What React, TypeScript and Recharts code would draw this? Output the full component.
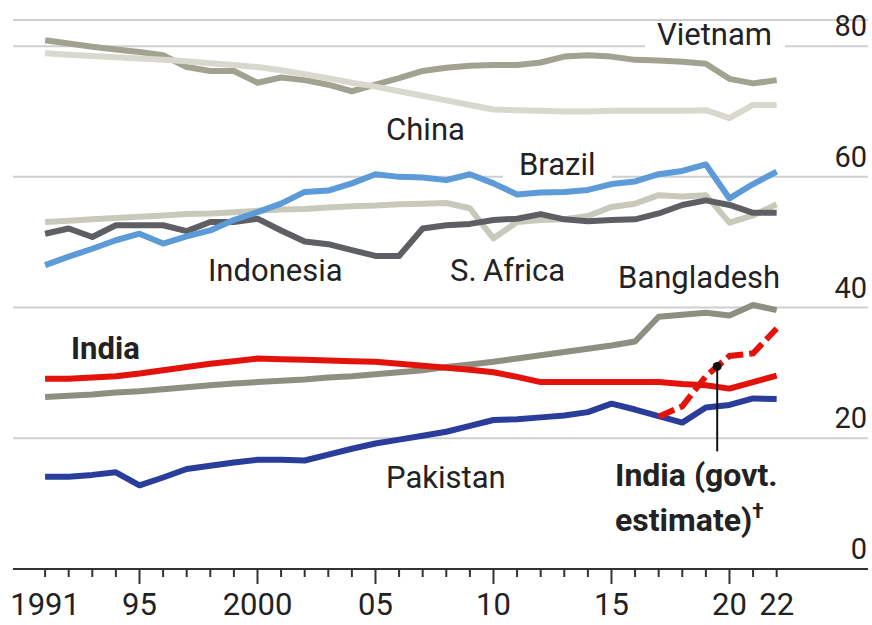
import React from "react";
import {
  LineChart,
  Line,
  XAxis,
  YAxis,
  CartesianGrid,
  ReferenceDot,
  ReferenceLine,
} from "recharts";

const years = [
  1991, 1992, 1993, 1994, 1995, 1996, 1997, 1998, 1999, 2000, 2001, 2002, 2003,
  2004, 2005, 2006, 2007, 2008, 2009, 2010, 2011, 2012, 2013, 2014, 2015, 2016,
  2017, 2018, 2019, 2020, 2021, 2022,
];

const vietnam = [
  80.9, 80.4, 79.9, 79.5, 79.1, 78.6, 76.8, 76.2, 76.2, 74.4, 75.2, 74.8, 74.1,
  73.1, 74.1, 75.1, 76.2, 76.7, 77.0, 77.1, 77.1, 77.5, 78.4, 78.6, 78.4, 77.9,
  77.8, 77.6, 77.3, 75.0, 74.3, 74.8,
];
const china = [
  78.9, 78.7, 78.5, 78.3, 78.1, 77.9, 77.7, 77.4, 77.1, 76.8, 76.3, 75.7, 75.1,
  74.4, 73.8, 73.1, 72.4, 71.7, 71.0, 70.3, 70.2, 70.1, 70.0, 70.0, 70.1, 70.1,
  70.1, 70.1, 70.2, 69.0, 71.0, 71.0,
];
const southAfrica = [
  53.1, 53.3, 53.5, 53.7, 53.9, 54.1, 54.3, 54.4, 54.6, 54.8, 55.0, 55.1, 55.3,
  55.5, 55.6, 55.8, 55.9, 56.0, 55.2, 50.6, 53.1, 53.4, 53.5, 54.0, 55.4, 55.9,
  57.2, 57.0, 57.2, 53.0, 54.1, 55.8,
];
const indonesia = [
  51.3, 52.1, 50.8, 52.6, 52.6, 52.6, 51.7, 53.1, 53.1, 53.6, 51.8, 50.1, 49.7,
  48.8, 47.9, 47.9, 52.1, 52.6, 52.8, 53.4, 53.6, 54.3, 53.5, 53.2, 53.4, 53.5,
  54.4, 55.7, 56.4, 55.7, 54.5, 54.5,
];
const brazil = [
  46.5, 47.8, 49.0, 50.3, 51.3, 49.8, 50.9, 51.8, 53.4, 54.6, 55.9, 57.7, 57.9,
  59.0, 60.4, 60.0, 59.9, 59.5, 60.4, 59.0, 57.3, 57.6, 57.7, 58.0, 58.9, 59.3,
  60.4, 60.9, 61.9, 56.7, 58.9, 60.8,
];
const bangladesh = [
  26.3, 26.5, 26.7, 27.0, 27.2, 27.5, 27.8, 28.1, 28.4, 28.6, 28.8, 29.0, 29.3,
  29.5, 29.8, 30.1, 30.4, 30.9, 31.3, 31.7, 32.2, 32.7, 33.2, 33.7, 34.2, 34.8,
  38.6, 38.9, 39.2, 38.8, 40.4, 39.6,
];
const pakistan = [
  14.1, 14.1, 14.4, 14.8, 12.8, 14.0, 15.3, 15.8, 16.3, 16.7, 16.7, 16.6, 17.5,
  18.4, 19.2, 19.8, 20.4, 21.0, 21.9, 22.8, 22.9, 23.2, 23.5, 24.0, 25.3, 24.4,
  23.4, 22.4, 24.7, 25.1, 26.1, 26.0,
];
const india = [
  29.1, 29.1, 29.3, 29.5, 29.9, 30.4, 30.9, 31.4, 31.8, 32.2, 32.1, 32.0, 31.9,
  31.8, 31.7, 31.4, 31.1, 30.8, 30.5, 30.1, 29.4, 28.6, 28.6, 28.6, 28.6, 28.6,
  28.6, 28.3, 28.1, 27.6, 28.6, 29.6,
];
const indiaGovt = [
  null, null, null, null, null, null, null, null, null, null, null, null, null,
  null, null, null, null, null, null, null, null, null, null, null, null, null,
  23.3, 24.9, 29.5, 32.6, 33.0, 36.8,
];

const yTicks = [0, 20, 40, 60, 80];
const tickLabels: Record<number, string> = {
  1991: "1991",
  1995: "95",
  2000: "2000",
  2005: "05",
  2010: "10",
  2015: "15",
  2020: "20",
  2022: "22",
};
const majorTicks = [1995, 2000, 2005, 2010, 2015, 2020];

const rows = years.map((year, i) => ({
  year,
  vietnam: vietnam[i],
  china: china[i],
  southAfrica: southAfrica[i],
  indonesia: indonesia[i],
  brazil: brazil[i],
  bangladesh: bangladesh[i],
  pakistan: pakistan[i],
  india: india[i],
  indiaGovt: indiaGovt[i],
}));

// drawn bottom to top
const series = [
  { key: "vietnam", color: "#a2a290" },
  { key: "china", color: "#d8d8ce" },
  { key: "southAfrica", color: "#c9c9bb" },
  { key: "indonesia", color: "#5d5f63" },
  { key: "brazil", color: "#5c9ad8" },
  { key: "bangladesh", color: "#8e8f80" },
  { key: "pakistan", color: "#2a3d9b" },
  { key: "india", color: "#e3120b" },
];

// label anchors in data units (year, value); gap = white patch over gridline
const labels = [
  { text: "Vietnam", year: 2016.93, value: 80.2, gap: [-12, 140] },
  { text: "China", year: 2005.45, value: 65.7 },
  { text: "Brazil", year: 2011.08, value: 60.3, gap: [-16, 109] },
  { text: "Indonesia", year: 1997.9, value: 44.1 },
  { text: "S.\u2009Africa", year: 2008.16, value: 44.1 },
  { text: "Bangladesh", year: 2015.28, value: 43.0 },
  { text: "India", year: 1992.1, value: 32.2, bold: true },
  { text: "Pakistan", year: 2005.45, value: 12.4 },
];

const FONT = "Roboto, 'Noto Sans', sans-serif";
const INK = "#222";

const XTick = (props: any) => {
  const { x, y, payload } = props;
  const v = payload.value;
  const label = tickLabels[v];
  return (
    <g>
      <line
        x1={x}
        x2={x}
        y1={y}
        y2={y + (majorTicks.includes(v) ? 15 : 8)}
        stroke="#333"
        strokeWidth={2}
      />
      {label && (
        <text
          x={x}
          y={y + 46}
          textAnchor="middle"
          fontFamily={FONT}
          fontSize={31}
          fill={INK}
        >
          {label}
        </text>
      )}
    </g>
  );
};

const YTick = (props: any) => {
  const { x, y, payload } = props;
  return (
    <text
      x={x - 1}
      y={y - 10}
      textAnchor="end"
      fontFamily={FONT}
      fontSize={29}
      fill={INK}
    >
      {payload.value}
    </text>
  );
};

const makeLabel = (l: any) => (p: any) => {
  const { cx, cy } = p;
  return (
    <g>
      {l.gap && (
        <rect x={cx + l.gap[0]} y={cy - 4} width={l.gap[1]} height={10} fill="#fff" />
      )}
      <text
        x={cx}
        y={cy}
        fontFamily={FONT}
        fontSize={31}
        fontWeight={l.bold ? 700 : 400}
        fill={INK}
      >
        {l.text}
      </text>
    </g>
  );
};

const GovtLabel = (p: any) => {
  const { cx, cy } = p;
  return (
    <text x={cx} y={cy} fontFamily={FONT} fontSize={32} fontWeight={700} fill={INK}>
      <tspan x={cx}>India (govt.</tspan>
      <tspan x={cx} dy={45}>
        estimate)
      </tspan>
      <tspan fontSize={21} dy={-13}>
        †
      </tspan>
    </text>
  );
};

export default function App() {
  return (
    <div
      style={{
        position: "absolute",
        left: 0,
        top: 0,
        width: 872,
        height: 625,
        background: "#fff",
      }}
    >
      <LineChart
        width={872}
        height={625}
        data={rows}
        margin={{ top: 20, right: 0, bottom: 0, left: 13 }}
      >
        <CartesianGrid vertical={false} stroke="#cfcfcf" strokeWidth={2} />
        <XAxis
          dataKey="year"
          type="number"
          domain={[1989.64, 2025.87]}
          ticks={years}
          interval={0}
          height={56}
          tickSize={0}
          tickMargin={0}
          tickLine={false}
          axisLine={{ stroke: "#333", strokeWidth: 2 }}
          tick={<XTick />}
        />
        <YAxis
          orientation="right"
          width={4}
          domain={[0, 84]}
          ticks={yTicks}
          tickSize={0}
          tickMargin={0}
          axisLine={false}
          tickLine={false}
          tick={<YTick />}
        />
        {series.map((s) => (
          <Line
            key={s.key}
            dataKey={s.key}
            stroke={s.color}
            strokeWidth={6}
            dot={false}
            activeDot={false}
            strokeLinejoin="round"
            isAnimationActive={false}
          />
        ))}
        <Line
          dataKey="indiaGovt"
          stroke="#e3120b"
          strokeWidth={6}
          strokeDasharray="17 6"
          dot={false}
          activeDot={false}
          isAnimationActive={false}
        />
        {labels.map((l) => (
          <ReferenceDot
            key={l.text}
            x={l.year}
            y={l.value}
            r={1}
            ifOverflow="visible"
            shape={makeLabel(l)}
          />
        ))}
        <ReferenceLine
          segment={[
            { x: 2019.48, y: 31 },
            { x: 2019.48, y: 18 },
          ]}
          stroke="#111"
          strokeWidth={2}
          ifOverflow="visible"
        />
        <ReferenceDot x={2019.48} y={31} r={4.5} fill="#111" stroke="none" />
        <ReferenceDot
          x={2015.15}
          y={12.7}
          r={1}
          ifOverflow="visible"
          shape={(p: any) => <GovtLabel {...p} />}
        />
      </LineChart>
    </div>
  );
}
